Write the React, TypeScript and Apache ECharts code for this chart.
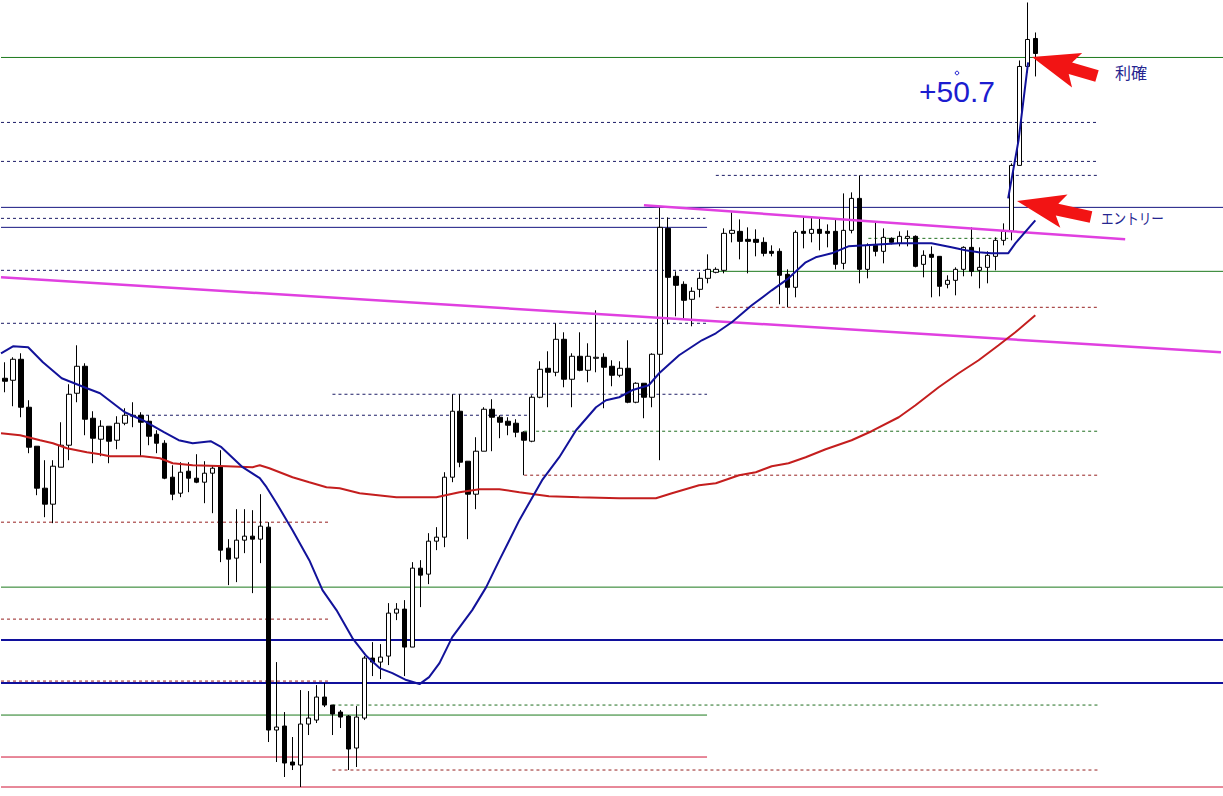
import React, { useEffect, useRef } from "react";
import * as echarts from "echarts";

// ---- data (price units; larger = higher) ----
const SLOTS = 153;
const categories: string[] = Array.from({ length: SLOTS }, (_, i) => `${i + 1}`);

const opens = [
  418, 416, 437, 389, 350, 308, 292, 329, 351, 403,
  430, 378, 357, 370, 356, 373, 380, 381, 375, 362,
  353, 319, 303, 325, 318, 314, 323, 330, 248, 238,
  256, 260, 257, 269, 66, 70, 34, 31, 72, 76,
  99, 91, 84, 80, 48, 78, 138, 134, 140, 183,
  187, 149, 228, 222, 255, 259, 319, 385, 335, 302,
  345, 387, 379, 375, 373, 364, 355, 399, 428, 424,
  457, 417, 440, 426, 438, 439, 430, 421, 428, 394,
  413, 399, 442, 568, 520, 512, 497, 507, 518, 524,
  526, 563, 565, 557, 557, 554, 545, 545, 522, 509,
  565, 563, 567, 565, 565, 533, 566, 598, 527, 551,
  545, 558, 553, 558, 560, 532, 542, 540, 512, 516,
  527, 549, 526, 529, 540, 556, 565, 631, 730, 758,
];
const closes = [
  415, 437, 389, 349, 308, 292, 330, 351, 402, 430,
  377, 358, 370, 355, 373, 381, 381, 374, 360, 353,
  318, 302, 324, 318, 314, 323, 328, 246, 237, 256,
  260, 257, 270, 66, 69, 33, 31, 72, 78, 99,
  91, 82, 79, 47, 79, 138, 134, 139, 183, 187,
  149, 228, 221, 255, 259, 319, 385, 334, 302, 345,
  387, 379, 374, 371, 364, 356, 399, 427, 424, 457,
  417, 440, 426, 440, 439, 429, 421, 428, 394, 413,
  399, 442, 569, 519, 511, 496, 505, 518, 527, 527,
  563, 566, 555, 555, 554, 543, 543, 521, 509, 564,
  563, 567, 563, 563, 532, 566, 598, 527, 551, 545,
  559, 554, 560, 560, 530, 541, 539, 510, 516, 527,
  549, 525, 529, 541, 556, 565, 631, 730, 757, 743,
];
const lows = [
  404, 390, 379, 343, 301, 279, 273, 329, 336, 394,
  361, 333, 340, 333, 347, 371, 369, 340, 351, 343,
  317, 296, 299, 304, 313, 293, 283, 234, 211, 214,
  243, 203, 233, 54, 34, 19, 26, 9, 61, 73,
  89, 61, 68, 26, 29, 76, 120, 117, 131, 176,
  120, 149, 189, 212, 246, 249, 314, 329, 257, 287,
  345, 345, 358, 361, 359, 321, 354, 398, 389, 420,
  409, 389, 425, 414, 424, 388, 410, 419, 393, 393,
  378, 389, 336, 472, 480, 478, 470, 499, 513, 523,
  523, 554, 537, 523, 540, 540, 540, 492, 489, 499,
  548, 554, 546, 549, 527, 527, 563, 513, 518, 540,
  533, 552, 550, 550, 529, 519, 499, 500, 508, 501,
  520, 520, 508, 513, 526, 551, 556, 631, 724, 720,
];
const highs = [
  434, 439, 443, 396, 350, 336, 336, 374, 412, 451,
  433, 385, 376, 370, 380, 388, 394, 384, 381, 366,
  356, 331, 334, 334, 342, 335, 331, 346, 257, 287,
  287, 286, 302, 274, 134, 84, 59, 106, 105, 111,
  113, 91, 86, 81, 90, 140, 154, 152, 193, 193,
  196, 234, 236, 263, 269, 324, 402, 402, 335, 359,
  389, 397, 381, 379, 377, 365, 401, 435, 445, 473,
  464, 443, 464, 453, 486, 443, 436, 435, 456, 414,
  413, 443, 590, 579, 525, 515, 509, 524, 542, 529,
  568, 584, 577, 569, 567, 559, 551, 548, 527, 566,
  579, 580, 578, 572, 577, 603, 604, 621, 553, 574,
  568, 559, 565, 566, 561, 546, 550, 540, 521, 529,
  550, 569, 549, 545, 559, 573, 633, 736, 794, 764,
];

// moving averages: [bar position, value]
const blueMA: [number, number][] = [
  [0, 443], [1.5, 450], [3.4, 449], [5.25, 434], [7.6, 418], [10.75, 408], [12.4, 403],
  [15.5, 384], [17.75, 376], [20.4, 364], [22.25, 356], [24.0, 353], [26.25, 355], [27.6, 349],
  [30.25, 329], [32.4, 318], [33.25, 309], [34.5, 293], [36.5, 266], [38.6, 236], [40.25, 206],
  [42.0, 186], [44.0, 158], [45.75, 140], [47.4, 128], [49.0, 123], [50.75, 116], [52.4, 112],
  [53.6, 119], [54.9, 133], [56.5, 159], [59.0, 186], [60.75, 209], [62.4, 236], [64.9, 276],
  [67.75, 316], [69.9, 339], [72.0, 366], [74.5, 389], [75.75, 396], [77.4, 399], [79.0, 406],
  [81.1, 411], [82.4, 423], [84.9, 441], [87.75, 456], [89.5, 463], [91.5, 474], [94.0, 491],
  [96.5, 506], [98.6, 518], [100.75, 534], [102.0, 539], [104.0, 543], [106.1, 550], [108.25, 551],
  [112.4, 553], [116.5, 553], [119.0, 549], [120.75, 546], [122.4, 544], [124.0, 543], [126.1, 543],
  [127.0, 553], [129.5, 576],
];
const fastMA: [number, number][] = [[126.1, 598], [127.4, 656], [128.6, 734]];
const redMA: [number, number][] = [
  [0, 363], [2.4, 361], [4.9, 356], [6.5, 353], [8.25, 348], [10.75, 344], [12.4, 342], [13.6, 340],
  [17.75, 340], [19.9, 338], [21.5, 333], [24.0, 331], [28.25, 330], [31.5, 329], [32.4, 331],
  [33.6, 328], [36.5, 319], [38.6, 314], [40.75, 309], [42.4, 308], [44.9, 303], [49.5, 299],
  [54.5, 299], [57.4, 304], [59.9, 307], [62.4, 307], [64.9, 304], [68.6, 300], [72.4, 299],
  [77.4, 298], [82.0, 298], [84.0, 303], [87.4, 311], [89.5, 313], [92.4, 321], [94.5, 324],
  [96.5, 330], [98.6, 333], [100.75, 339], [103.25, 347], [106.5, 356], [109.0, 365], [112.4, 379],
  [114.5, 391], [117.4, 409], [119.9, 423], [122.4, 436], [124.9, 451], [127.0, 464], [129.5, 481],
];

// trend lines: [start, end] as [bar position, value]
const trendLong: [number, number][] = [[0, 519], [152.75, 444]];
const trendShort: [number, number][] = [[80.5, 591], [140.75, 557]];

// horizontal levels
const levelValues = [739, 589, 525, 209, 156, 113, 9, 569, 81, 39, 674, 635, 621, 578, 558, 526, 489, 473, 402, 381, 365, 321, 274, 177, 115, 91, 26];
const levelFrom =   [0, 0, 88.5, 0, 0, 0, 0, 0, 0, 0, 0, 0, 89.5, 0, 108.6, 0, 89.5, 0, 41.5, 17.4, 65.5, 65.5, 0, 0, 0, 41.5, 41.5];
const levelTo =     [153, 153, 153, 153, 153, 153, 153, 88.4, 88.4, 88.4, 137.4, 137.4, 137.4, 88.2, 126.1, 88.2, 137.4, 88.4, 88.4, 65.9, 137.4, 137.4, 41.1, 41.1, 41.1, 137.4, 137.4];
const levelKind = [
  "green", "navy", "green", "green", "navyBold", "navyBold", "red", "navy", "green", "red",
  "navyDash", "navyDash", "navyDash", "navyDash", "greenDash", "navyDash", "redDash", "navyDash",
  "navyDash", "navyDash", "greenDash", "redDash", "redDash", "redDash", "redDash", "greenDash", "redDash",
];

const profitText = "+50.7";
const takeProfitLabel = "利確";
const entryLabel = "エントリー";

// ---- styles ----
const kindStyle: Record<string, any> = {
  green: { color: "#1d7a1d", width: 1, type: "solid" },
  navy: { color: "#161680", width: 1, type: "solid" },
  navyBold: { color: "#10109c", width: 2, type: "solid" },
  red: { color: "#d01234", width: 1, type: "solid" },
  navyDash: { color: "#1c1c66", width: 1, type: [3, 3] },
  greenDash: { color: "#1f6e1f", width: 1, type: [3, 3] },
  redDash: { color: "#962020", width: 1, type: [3, 3] },
};

function arrowPoints(tip: number[], tail: number[], headLen: number, headHalf: number, shaftHalf: number) {
  const dx = tail[0] - tip[0];
  const dy = tail[1] - tip[1];
  const L = Math.hypot(dx, dy);
  const ux = dx / L, uy = dy / L;
  const px = -uy, py = ux;
  const hb = [tip[0] + ux * headLen, tip[1] + uy * headLen];
  const notch = [tip[0] + ux * (headLen - 7), tip[1] + uy * (headLen - 7)];
  return [
    tip,
    [hb[0] + px * headHalf, hb[1] + py * headHalf],
    [notch[0] + px * shaftHalf, notch[1] + py * shaftHalf],
    [tail[0] + px * shaftHalf, tail[1] + py * shaftHalf],
    [tail[0] - px * shaftHalf, tail[1] - py * shaftHalf],
    [notch[0] - px * shaftHalf, notch[1] - py * shaftHalf],
    [hb[0] - px * headHalf, hb[1] - py * headHalf],
  ];
}

export default function App() {
  const ref = useRef<HTMLDivElement>(null);
  useEffect(() => {
    if (!ref.current) return;
    const chart = echarts.init(ref.current, undefined, { renderer: "svg" });

    const candles = opens.map((o, i) => [o, closes[i], lows[i], highs[i]]);

    const levelSeries = levelValues.map((v, i) => {
      const st = kindStyle[levelKind[i]];
      return {
        type: "line",
        xAxisIndex: 1,
        yAxisIndex: 0,
        data: [[levelFrom[i], v], [levelTo[i], v]],
        symbol: "none",
        silent: true,
        z: 1,
        lineStyle: { color: st.color, width: st.width, type: st.type },
      };
    });

    const lineSeries = (data: [number, number][], color: string, width: number, z = 4) => ({
      type: "line",
      xAxisIndex: 1,
      yAxisIndex: 0,
      data,
      symbol: "none",
      silent: true,
      z,
      lineStyle: { color, width },
    });

    const red = "#f21414";
    chart.setOption({
      animation: false,
      backgroundColor: "#ffffff",
      grid: { left: 1, top: 0.5, width: 1224, height: 796 },
      xAxis: [
        { type: "category", data: categories, show: false, boundaryGap: true },
        { type: "value", min: 0, max: SLOTS, show: false },
      ],
      yAxis: [{ type: "value", min: 0, max: 796, show: false }],
      series: [
        ...levelSeries,
        {
          type: "candlestick",
          xAxisIndex: 0,
          yAxisIndex: 0,
          data: candles,
          barWidth: 5,
          z: 2,
          itemStyle: {
            color: "#ffffff",
            color0: "#000000",
            borderColor: "#000000",
            borderColor0: "#000000",
            borderColorDoji: "#000000",
            borderWidth: 1,
          },
        },
        lineSeries(redMA, "#c41e1e", 2),
        lineSeries(blueMA, "#12129a", 2),
        lineSeries(fastMA, "#12129a", 2),
        lineSeries(trendLong, "#e040e0", 2.5, 3),
        lineSeries(trendShort, "#e040e0", 2.5, 3),
      ],
      graphic: [
        {
          type: "polygon",
          shape: { points: arrowPoints([1032, 57], [1097, 76], 47, 18, 6) },
          style: { fill: red },
          z: 10,
        },
        {
          type: "polygon",
          shape: { points: arrowPoints([1017, 201], [1091, 217], 48, 17, 6) },
          style: { fill: red },
          z: 10,
        },
        {
          type: "text",
          x: 919,
          y: 91,
          z: 10,
          style: {
            text: profitText,
            font: "30px 'Liberation Sans', Arial, sans-serif",
            fill: "#1c1ccf",
            align: "left",
            verticalAlign: "middle",
          },
        },
        {
          type: "circle",
          shape: { cx: 957, cy: 73, r: 1.8 },
          style: { fill: "none", stroke: "#1c1ccf", lineWidth: 1 },
          z: 10,
        },
        {
          type: "text",
          x: 1115,
          y: 72,
          z: 10,
          style: {
            text: takeProfitLabel,
            font: "16px 'Noto Sans CJK JP', sans-serif",
            fill: "#262690",
            align: "left",
            verticalAlign: "middle",
          },
        },
        {
          type: "text",
          x: 1101,
          y: 218,
          scaleX: 0.84,
          z: 10,
          style: {
            text: entryLabel,
            font: "15px 'Noto Sans CJK JP', sans-serif",
            fill: "#262690",
            align: "left",
            verticalAlign: "middle",
          },
        },
      ],
    });
    return () => chart.dispose();
  }, []);
  return (
    <div
      ref={ref}
      style={{ position: "fixed", left: 0, top: 0, width: 1223, height: 796, background: "#fff" }}
    />
  );
}
